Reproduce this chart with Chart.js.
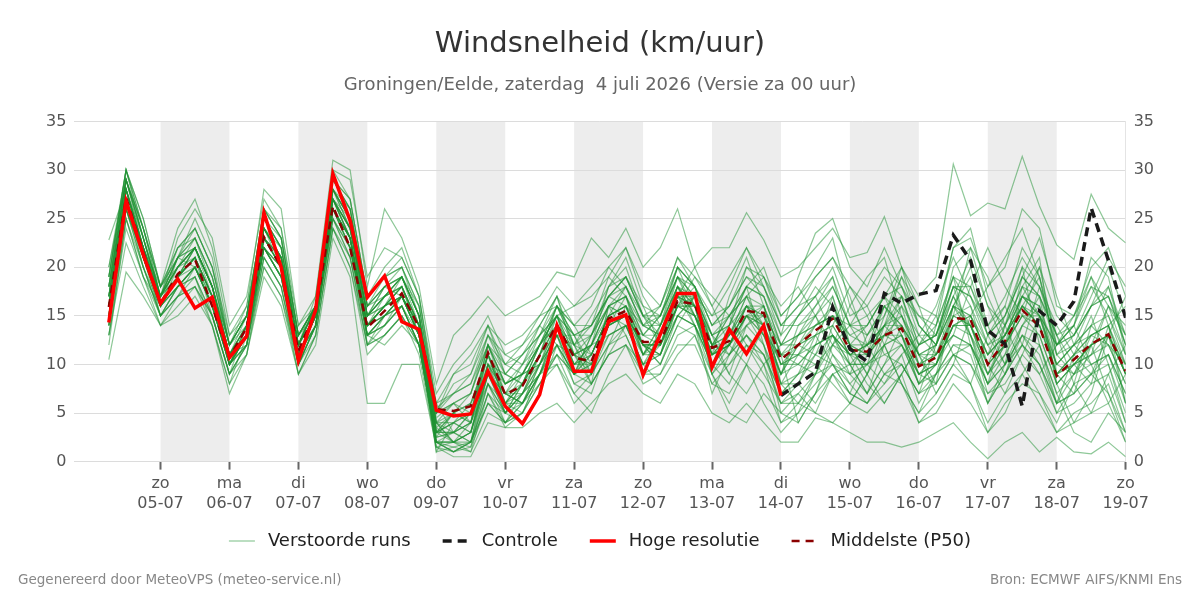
<!DOCTYPE html>
<html>
<head>
<meta charset="utf-8">
<title>Windsnelheid</title>
<script src="https://cdn.jsdelivr.net/npm/chart.js"></script>
<style>
body{margin:0;background:#fff;}
#wrap{width:1200px;height:600px;position:relative;}
</style>
</head>
<body>
<div id="wrap"><canvas id="chart"></canvas></div>
<script>
// uren t.o.v. zo 05-07 00:00, stappen van 6 uur
const hours=[-18,-12,-6,0,6,12,18,24,30,36,42,48,54,60,66,72,78,84,90,96,102,108,114,120,126,132,138,144,150,156,162,168,174,180,186,192,198,204,210,216,222,228,234,240,246,252,258,264,270,276,282,288,294,300,306,312,318,324,330,336];
const dayTicks=[0,24,48,72,96,120,144,168,192,216,240,264,288,312,336];
const dayNames=['zo','ma','di','wo','do','vr','za','zo','ma','di','wo','do','vr','za','zo'];
const dayDates=['05-07','06-07','07-07','08-07','09-07','10-07','11-07','12-07','13-07','14-07','15-07','16-07','17-07','18-07','19-07'];
const shadedStarts=[0,48,96,144,192,240,288];
const legendOrder=['Verstoorde runs','Controle','Hoge resolutie','Middelste (P50)'];

const hogeResolutie=[14.3,26.8,21.3,16.3,18.8,15.8,16.9,10.7,12.9,25.6,20.0,10.4,15.6,29.6,24.8,16.9,19.1,14.4,13.6,5.3,4.7,4.9,9.3,5.7,3.9,6.9,14.0,9.3,9.3,14.4,15.1,8.9,13.1,17.3,17.3,9.7,13.6,11.1,14.0,6.8];
// controle vanaf ma 14-07 00:00 (index 39)
const controle=[6.8,8.0,9.2,15.9,11.6,10.3,17.3,16.3,17.2,17.6,23.3,20.7,13.5,12.1,5.7,15.5,14.0,16.5,26.1,20.7,14.8];
const middelste=[15.9,27.2,21.5,16.3,19.3,20.8,16.0,10.7,13.8,23.1,20.0,11.4,15.5,26.3,22.0,13.8,15.5,17.3,13.8,5.4,5.2,5.7,11.2,6.9,7.8,10.9,14.1,10.7,10.3,14.7,15.5,12.3,12.3,16.5,16.2,11.7,12.4,15.5,15.3,10.5,12.0,13.5,14.7,11.5,11.3,13.0,13.7,9.8,10.7,14.8,14.6,10.0,12.4,15.6,13.9,8.8,10.5,12.1,13.1,9.3];

const run01=[17,29,23,17,20,22,18,11,13,24,21,12,15,28,24,15,17,18,14,3, 4,3,10,6,5,9,13,12,8,16,17,11,14,18,15,10,13,17,14,9, 13,16,19,12,9,14,17,11,8,16,19,13,10,18,21,9,7,12,16,11];
const run02=[14,26,20,15,18,19,15,9,12,22,19,10,14,25,21,12,14,16,12,2, 2,1.5,8,5,7,11,15,9,12,13,14,10,11,15,17,12,9,14,16,11, 10,9,12,14,15,11,10,7,12,17,13,8,14,20,12,6,11,15,10,4];
const run03=[19,30,25,18,22,24,20,13,15,26,23,13,16,30,27,17,19,20,15,4, 6,7,13,9,8,12,16,14,11,15,18,14,13,19,16,9,12,16,13,8, 8,12,17,10,7,12,16,13,11,13,12,9,13,17,15,12,14,19,16,13];
const run04=[13,24,19,14,17,18,14,8,11,21,18,9,13,24,20,11,13,15,11,1.5, 1,2,6,4,6,8,11,7,9,12,13,9,10,14,13,8,10,12,11,6, 6,5,9,7,6,9,8,5,7,10,8,4,7,9,6,3,5,6,8,3];
const run05=[16,28,22,16,19,21,17,10,14,23,20,11,15,27,25,14,16,19,16,5, 8,9,14,10,9,13,17,12,14,17,16,13,15,20,18,14,16,19,17,13, 15,18,16,13,14,17,15,12,13,18,17,14,16,22,19,11,13,16,18,12];
const run06=[20,29,24,17,21,25,21,12,16,25,22,12,17,29,26,16,18,17,13,6, 3,4,11,7,10,14,12,9,13,18,20,15,12,16,15,12,14,18,20,15, 17,20,23,16,13,15,19,14,12,20,22,16,12,16,14,10,9,13,12,8];
const run07=[15,27,20,15,17,20,16,11,13,22,20,11,14,26,22,13,12,14,12,2.5, 5,6,9,5,4,7,12,11,10,14,15,12,11,17,16,11,13,15,12,7, 9,11,13,10,12,14,12,8,10,14,15,11,15,19,17,8,10,11,13,9];
const run08=[12,25,19,16,19,22,18,10,12,20,17,10,13,24,21,13,15,17,14,3.5, 2,4,12,8,9,10,13,8,7,12,14,10,13,18,14,7,11,13,10,4, 5,7,11,9,10,8,11,6,9,12,11,6,9,13,10,5,8,9,7,2];
const run09=[18,30,23,17,23,26,23,14,17,27,24,14,16,30,29,19,22,21,17,7, 10,12,15,11,12,15,18,16,17,19,22,18,16,21,19,16,19,22,18,13, 19,23.5,25,20,18,22,18,15,14,22,23,18,20,26,24,16,15,20,22,17];
const run10=[16,28,21,17,20,21,15,9,14,24,21,12,15,27,24,15,16,18,13,1, 1.5,1,7,3.5,5,9,14,11,9,16,15,12,10,15,17,13,11,14,15,12, 12,13,10,7,11,16,13,8,14,19,12,6,10,14,17,13,10,8,14,16];
const run11=[22.8,28,22,18,21,20,16,10,13,22,19,11,14,26,23,14,17,19,15,4, 4,5,11,6,8,12,15,10,12,15,16,11,14,17,14,10,12,16,14,9, 14,15,12,11,12,16,14,9,10,16,14,11,13,17,16,10,12,14,12,10];
const run12=[14,26,21,16,18,19,14,8,13,23,21,12,16,28,25,12,15,16,12,2, 3,2,9,7,6,10,13,13,10,14,17,13,12,16,18,12,15,17,13,11, 11,14,15,12,9,6,9,12,15,11,8,13,16,12,9,12,14,10,6,9];
const run13=[17,29,24,18,20,23,19,12,15,26,23,13,16,29,27,17,20,22,17,5.5, 7,8,12,9,11,13,16,12,15,18,19,16,15,19,17,13,14,20,18,14, 16,17,20,15,16,19,17,12,13,19,18,14,17,21,18,13,14,18,17,13];
const run14=[15,27,22,15,18,20,17,11,12,21,18,10,14,25,22,14,15,16,12,3, 2,3,8,5,7,9,11,9,8,11,12,9,9,13,14,10,8,12,10,6, 7,9,10,8,6,8,10,7,9,11,10,6,9,12,10,6,7,9,10,5];
const run15=[10.5,19.5,17,14,15,17,14,7,11,19,16,9,12,23,19,6,6,10,10,1.5, 0.5,0.5,4,3.5,3.5,5,6,4,6,8,9,7,6,9,8,5,4,6,4,2, 2,4.5,4,3,2,2,1.5,2,3,4,2,0.3,2,3,1,2.5,1,0.8,2,0.5];
const run16=[18,29,23,17,21,22,18,12,15,25,22,13,15,28,25,15,18,19,15,4.5, 6,5,12,8,9,12,14,11,13,16,18,14,13,17,16,12,13,17,16,12, 13,14,16,12,11,13,15,11,10,14,15,11,13,16,14,9,10,12,13,10];
const run17=[16,27,21,16,19,21,17,10,14,24,21,12,16,27,23,13,14,17,13,2.5, 3,4,10,7,8,11,16,12,11,15,16,12,12,18,17,11,12,16,14,10, 10,12,13,11,12,13,12,9,11,15,14,10,12,15,15,9,11,13,14,9];
const run18=[19,30,25,18,24,27,22,13,16,28,26,14,17,31,30,18,26,23,18,8, 13,14.8,17,15,16,17,19.5,19,23,21,24,20,22,26,20,22,22,25.6,22.8,19, 20,22,24,21,21.5,25.2,20,17,19,30.6,25.3,26.6,26,31.4,26.3,22.3,20.8,27.5,24,22.5];
const run19=[13,25,19,15,17,18,15,9,11,20,17,9,13,24,20,12,13,15,12,2, 1,2,7,4,6,9,12,8,9,13,14,10,11,15,14,9,11,13,11,7, 9,10,12,10,10,11,12,8,9,12,12,8,10,13,12,7,9,10,11,7];
const run20=[17,28,22,17,20,22,18,11,14,24,20,11,15,27,24,14,16,18,14,3.5, 5,6,11,8,9,12,15,11,12,16,17,13,13,17,17,13,14,16,16,11, 12,14,15,12,12,14,15,11,11,16,15,11,13,16,15,10,12,13,14,10];
const run21=[15,26,20,16,19,21,17,11,13,22,19,11,15,26,22,13,15,17,14,4, 2,3,9,6,7,10,14,10,10,14,15,12,12,16,16,11,12,15,15,10, 11,13,14,11,10,12,13,9,10,14,14,9,12,15,13,8,10,12,13,9];
const run22=[20,30,24,18,22,23,19,12,15,26,24,13,16,29,26,16,19,20,16,6, 7,8,13,10,11,14,17,14,14,17,19,15,16,20,18,15,16,19,18,14, 14,16,18,14,13,16,17,12,13,18,17,13,15,19,17,12,13,16,17,12];
const run23=[14,27,21,15,18,20,16,10,12,22,19,10,14,26,23,14,16,17,13,3, 3,2,10,5,8,11,13,9,11,15,16,11,13,17,15,11,12,15,16,11, 4,7,9,6,5,7,9,4,6,9,8,3,6,8,7,3,4,5,6,2];
const run24=[16,28,22,17,20,22,18,11,14,23,20,11,15,27,24,15,17,19,15,1, 4,5,11,7,6,10,15,13,9,14,15,12,11,16,17,12,11,15,13,9, 12,15,17,12,11,14,16,10,11,15,16,12,14,17,15,9,11,13,14,9];
const run25=[18,29,23,16,19,22,18,11,14,25,22,12,16,28,26,16,18,19,14,5, 6,7,12,8,9,12,15,11,12,16,17,14,14,18,16,13,15,18,17,12, 13,14,15,13,12,14,14,11,12,16,15,12,13,17,16,11,12,14,15,10];
const run26=[13,22.5,18,14,16,18,15,9,12,22,20,11,14,26,22,13,14,16,12,2, 1,2,6,4,5,8,10,6,8,11,12,8,9,12,12,8,7,10,8,4, 6,8,10,7,6,9,10,7,8,11,10,7,8,11,9,5,6,8,9,4];
const run27=[17,27,22,16,21,24,20,12,15,24,21,12,16,28,25,15,17,18,14,4, 5,4,11,6,8,11,14,10,11,15,16,12,12,17,16,11,13,16,15,10, 11,12,13,11,11,13,14,10,11,14,14,10,12,15,14,9,11,12,13,9];
const run28=[16,26,21,17,19,21,17,10,13,23,21,11,15,27,23,14,16,17,13,3, 3,5,10,7,7,11,14,11,10,14,15,12,12,16,16,12,12,15,14,10, 12,13,14,11,12,13,13,10,10,15,14,10,12,16,14,9,10,12,13,9];
const run29=[19,29,24,18,21,22,18,11,15,25,22,12,16,28,25,15,17,19,15,5, 9,10,14,12,13,15,16,13,14,17,19,15,15,19,18,14,15,18,17,12, 15,17,19,14,14,17,18,13,13,18,18,13,15,20,18,12,13,16,17,12];
const run30=[15,28,21,16,18,20,16,10,13,23,20,11,15,26,23,13,15,17,13,2, 2,3,9,5,7,10,13,9,10,14,15,11,12,16,15,11,12,15,14,9, 10,12,13,10,10,12,13,9,10,14,13,9,11,14,13,8,10,11,12,8];
const run31=[16,27,22,17,19,21,16,10,13,23,20,11,15,26,23,14,16,18,14,4, 3,4,9,7,9,12,16,13,14,19,17,12,10,14,17,15,18,22,19,14, 16,19,21,17,12,9,11,13,16,21,17,12,9,12,18,14,11,9,13,6];
const run32=[15,28,22,16,20,22,17,11,14,24,21,12,16,28,24,16,18,20,16,5, 6,4,8,4,5,8,11,9,13,16,13,9,14,20,16,9,6,10,14,8, 6,9,14,18,16,12,8,5,9,15,22,19,14,10,7,4,8,14,18,13];
const run33=[17,29,22,16,18,20,16,10,14,24,21,13,16,27,23,13,14,16,13,2, 1,1.5,6,5,8,12,14,12,9,12,16,14,16,21,18,13,9,7,10,12, 15,17,13,9,7,10,14,11,7,10,15,18,21,24,19,13,8,5,9,12];
const run34=[14,26,21,16,19,21,17,10,13,22,19,10,14,25,22,14,16,17,14,3, 5,7,12,10,12,14,17,11,8,11,14,13,15,19,15,10,14,18,12,5, 4,7,12,16,19,21,15,10,12,18,13,7,9,14,16,8,4,7,13,17];
const run35=[18,29,23,17,21,23,19,12,15,25,23,13,16,29,26,16,17,18,14,4, 2,3,10,9,11,13,15,16,18,20,18,15,13,16,19,17,15,12,9,6, 8,11,15,14,17,20,18,14,12,16,20,14,10,13,11,6,9,12,7,3];
const run36=[16,27,21,16,19,22,18,11,13,23,21,12,15,27,24,15,17,19,15,3, 4,6,11,6,6,9,13,10,12,18,21,16,12,15,14,11,17,21,16,8, 11,10,8,6,9,13,17,15,13,17,14,9,12,19,23,17,12,16,20,15];
const run37=[15,27,21,16,18,20,16,10,12,22,19,11,14,26,22,13,15,16,12,2, 1.5,2,8,6,9,10,12,9,11,15,14,10,12,17,20,16,12,10,6,3, 5,9,13,11,8,6,9,12,14,19,16,10,7,11,15,12,15,19,14,6];
const run38=[19,30,24,17,22,24,20,12,15,26,23,13,16,29,27,17,19,21,17,6, 9,11,14,9,8,11,16,14,16,20,22,17,14,18,15,12,15,17,19,16, 18,15,11,8,10,15,20,16,11,13,18,22,18,15,20,15,13,17,21,18];
const run39=[14,25,20,15,17,19,15,9,12,21,18,10,14,25,21,12,13,15,12,1.5, 2,1,5,4,7,9,10,7,5,9,12,10,8,11,13,9,5,4,7,5, 7,5,4,6,9,12,8,4,5,8,6,3,5,9,12,7,3,2,5,3];
const run40=[17,28,22,17,21,23,18,11,14,24,21,12,15,27,24,15,16,17,14,3, 5,4,10,8,10,13,15,12,13,17,19,15,14,19,17,12,13,16,15,11, 13,15,18,14,11,14,19,16,15,22,24,17,13,16,19,11,9,11,16,14];
const run41=[16,28,21,16,19,21,17,11,13,23,20,11,15,27,23,14,15,17,13,2.5, 3,5,12,7,6,9,14,11,12,16,15,11,13,18,16,11,12,14,12,8, 9,13,16,12,14,17,13,8,10,13,12,8,11,17,20,12,14,21,19,11];
const run42=[15,27,22,16,19,21,17,10,13,22,20,11,15,26,23,14,16,18,13,3, 4,3,9,6,8,10,14,10,11,15,16,12,11,16,15,10,12,15,13,9, 12,11,10,9,13,16,14,11,12,16,13,10,14,18,15,10,12,10,11,7];
const run43=[18,28,23,17,20,22,18,12,14,24,22,12,16,28,25,15,18,19,15,5, 7,9,13,11,10,12,15,13,13,17,18,14,15,20,18,14,16,20,19,15, 17,19,21,18,15,17,20,14,12,17,21,16,14,18,17,13,15,18,15,11];
const run44=[16,27,21,16,19,20,16,10,13,23,20,11,15,26,23,14,15,17,13,2, 2,2,7,5,6,9,12,9,10,13,14,11,11,15,14,10,10,13,11,7, 8,6,9,10,7,10,12,9,8,11,12,8,10,12,10,6,7,9,11,6];
const runs=[run01,run02,run03,run04,run05,run06,run07,run08,run09,run10,run11,run12,run13,run14,run15,run16,run17,run18,run19,run20,run21,run22,run23,run24,run25,run26,run27,run28,run29,run30,run31,run32,run33,run34,run35,run36,run37,run38,run39,run40,run41,run42,run43,run44];

const fontFamily='"DejaVu Sans", sans-serif';
Chart.defaults.font.family=fontFamily;

function toPoints(values,offset){
return values.map((v,i)=>({x:hours[i+offset],y:v}));
}

const datasets=[
{label:'Hoge resolutie',data:toPoints(hogeResolutie,0),borderColor:'#ff0000',borderWidth:3.5,order:0},
{label:'Controle',data:toPoints(controle,hours.length-controle.length),borderColor:'#1a1a1a',borderWidth:3.5,borderDash:[9,6],order:1},
{label:'Middelste (P50)',data:toPoints(middelste,0),borderColor:'#8b0000',borderWidth:2.5,borderDash:[8,6],order:2}
];
runs.forEach((r,i)=>{
datasets.push({label:i===0?'Verstoorde runs':'',data:toPoints(r,0),borderColor:'rgba(30,145,50,0.5)',borderWidth:1.2,order:3});
});

const bands={
id:'bands',
beforeDraw(chart){
const {ctx,chartArea,scales:{x}}=chart;
ctx.save();
ctx.fillStyle='#ededed';
shadedStarts.forEach(s=>{
const x0=x.getPixelForValue(s);
const x1=x.getPixelForValue(s+24);
ctx.fillRect(x0,chartArea.top,x1-x0,chartArea.bottom-chartArea.top);
});
ctx.restore();
}
};

// legenda en voettekst zelf tekenen
const legendAndFooter={
id:'legendAndFooter',
afterDraw(chart){
const ctx=chart.ctx;
ctx.save();
ctx.font='18px '+fontFamily;
ctx.textBaseline='middle';
const lineW=26,textGap=13,itemGap=32,y=541;
const items=legendOrder.map(t=>chart.data.datasets.find(d=>d.label===t));
let total=0;
items.forEach((d,i)=>{total+=lineW+textGap+ctx.measureText(d.label).width+(i<items.length-1?itemGap:0);});
let x=600-total/2;
items.forEach(d=>{
ctx.strokeStyle=d.borderColor;
ctx.lineWidth=d.borderWidth;
ctx.setLineDash(d.borderDash||[]);
ctx.beginPath();
ctx.moveTo(x,y);
ctx.lineTo(x+lineW,y);
ctx.stroke();
ctx.setLineDash([]);
ctx.fillStyle='#222';
ctx.textAlign='left';
ctx.fillText(d.label,x+lineW+textGap,y);
x+=lineW+textGap+ctx.measureText(d.label).width+itemGap;
});
ctx.font='13.5px '+fontFamily;
ctx.fillStyle='#888';
ctx.fillText('Gegenereerd door MeteoVPS (meteo-service.nl)',18,580);
ctx.textAlign='right';
ctx.fillText('Bron: ECMWF AIFS/KNMI Ens',1182,580);
ctx.restore();
}
};

new Chart(document.getElementById('chart'),{
type:'line',
data:{datasets},
options:{
responsive:true,
maintainAspectRatio:false,
animation:false,
elements:{point:{radius:0,hoverRadius:0},line:{tension:0}},
layout:{padding:{left:38,right:38,top:0,bottom:82}},
plugins:{
tooltip:{enabled:false},
legend:{display:false},
title:{display:true,text:'Windsnelheid (km/uur)',color:'#333',font:{size:29,weight:'normal'},padding:{top:27,bottom:13}},
subtitle:{display:true,text:'Groningen/Eelde, zaterdag  4 juli 2026 (Versie za 00 uur)',color:'#666',font:{size:18},padding:{bottom:25}}
},
scales:{
x:{
type:'linear',
min:-30,
max:336,
afterBuildTicks:s=>{s.ticks=dayTicks.map(v=>({value:v}));},
ticks:{
autoSkip:false,
maxRotation:0,
color:'#555',
font:{size:16},
padding:5,
callback:v=>{const i=dayTicks.indexOf(v);return [dayNames[i],dayDates[i]];}
},
grid:{drawOnChartArea:false,drawTicks:true,tickLength:8,tickWidth:2,tickColor:'#666'},
border:{display:false}
},
y:{
position:'left',
min:0,
max:35,
ticks:{stepSize:5,color:'#555',font:{size:16},padding:8},
grid:{color:'#dcdcdc',drawTicks:false},
border:{display:false}
},
y2:{
position:'right',
min:0,
max:35,
ticks:{stepSize:5,color:'#555',font:{size:16},padding:8},
grid:{display:false,drawTicks:false},
border:{display:true,color:'#e4e4e4'}
}
}
},
plugins:[bands,legendAndFooter]
});
</script>
</body>
</html>
